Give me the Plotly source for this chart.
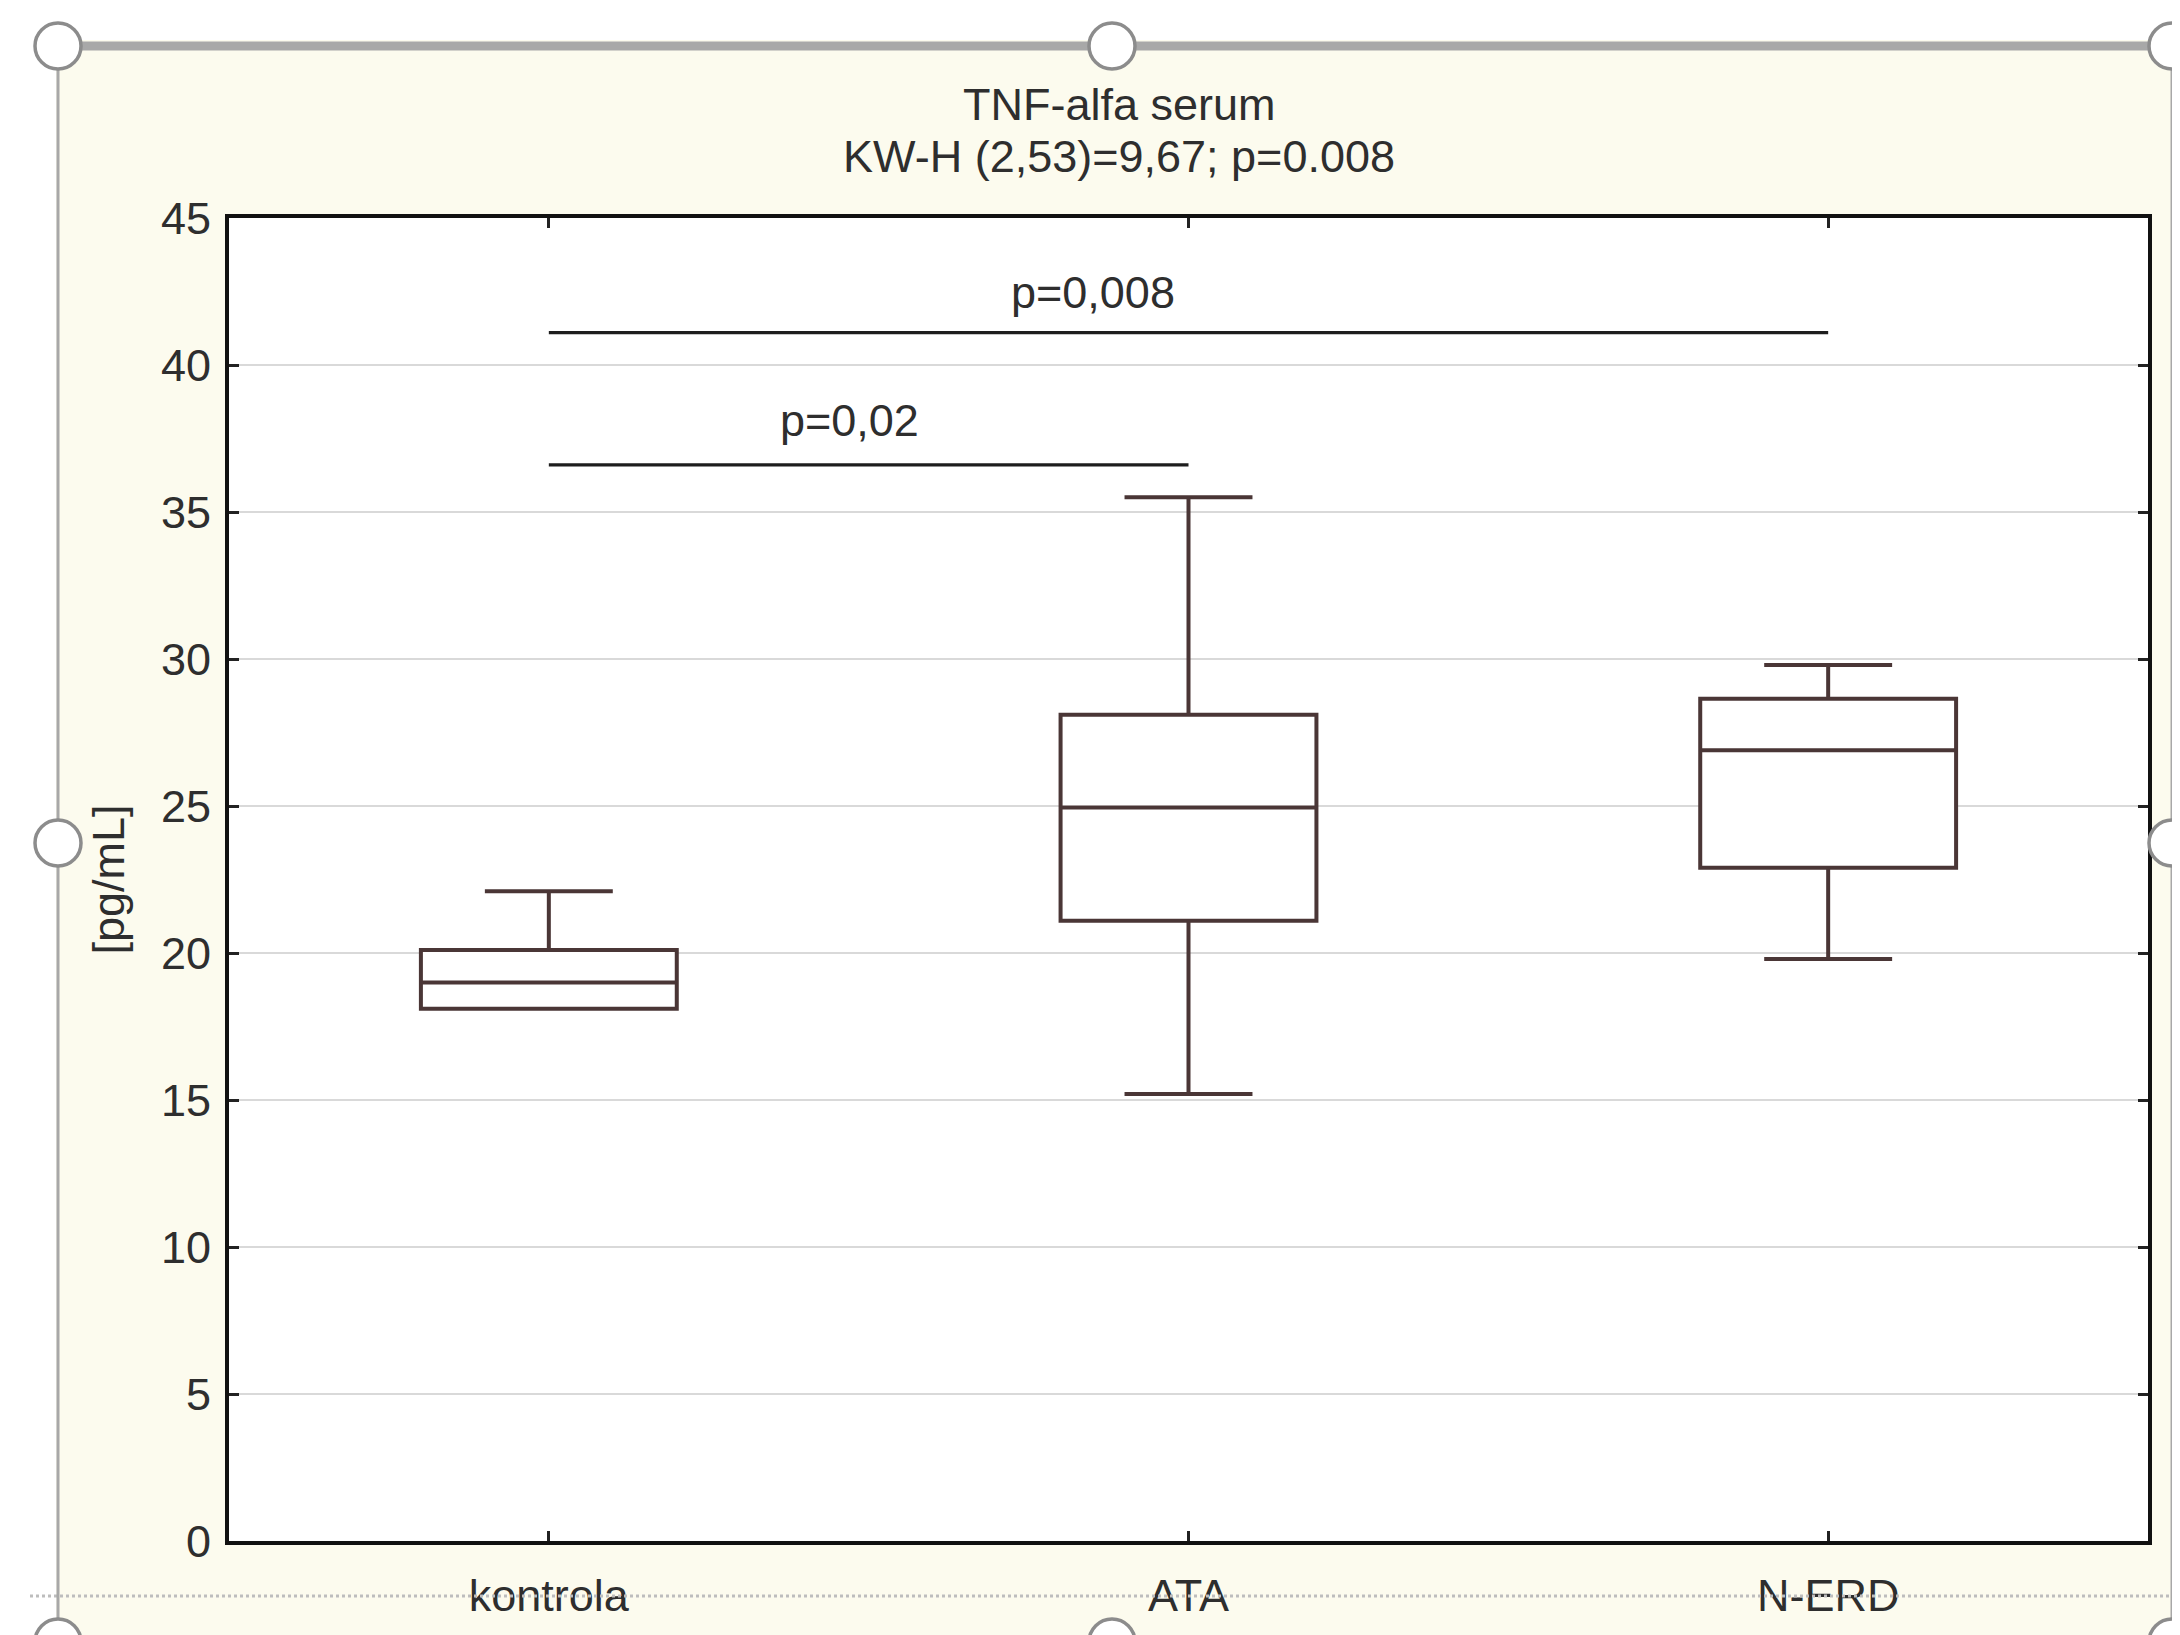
import plotly.graph_objects as go

# ---- data ----
categories = ["kontrola", "ATA", "N-ERD"]
lower_whisker = [18.1, 15.2, 19.8]
q1_values = [18.1, 21.1, 22.9]
median_values = [19.0, 24.95, 26.9]
q3_values = [20.1, 28.1, 28.65]
upper_whisker = [22.1, 35.5, 29.8]

sig_from = ["kontrola", "kontrola"]
sig_to = ["ATA", "N-ERD"]
sig_level = [36.6, 41.1]
sig_labels = ["p=0,02", "p=0,008"]

title_line1 = "TNF-alfa serum"
title_line2 = "KW-H (2,53)=9,67; p=0.008"
y_title = "[pg/mL]"
y_ticks = [0, 5, 10, 15, 20, 25, 30, 35, 40, 45]

# ---- layout geometry (screen pixels; page has an 8px body offset) ----
W, H = 2180, 1635
OFF = 8
L, R, T, B = 229 - OFF, 2148 - OFF, 218 - OFF, 1541 - OFF


def px(xp):
    return (xp - OFF - L) / (R - L)


def py(yp):
    return (B - (yp - OFF)) / (B - T)


FONT = "Liberation Sans, Arial, sans-serif"
TXT = "#2e2e2e"
BOXC = "#4a3636"
FS = 45

fig = go.Figure()

fig.add_trace(go.Box(
    x=categories,
    q1=q1_values,
    median=median_values,
    q3=q3_values,
    lowerfence=lower_whisker,
    upperfence=upper_whisker,
    width=0.4,
    whiskerwidth=0.5,
    fillcolor="white",
    line=dict(color=BOXC, width=4),
    boxpoints=False,
    showlegend=False,
))

for a, b, lvl in zip(sig_from, sig_to, sig_level):
    fig.add_trace(go.Scatter(
        x=[a, b], y=[lvl, lvl], mode="lines",
        line=dict(color="#1e1e1e", width=3.2),
        showlegend=False, hoverinfo="skip",
    ))

label_x = [0.47, 0.85]
label_dy = [1.5, 1.35]
annotations = []
for lx, lvl, dy, lab in zip(label_x, sig_level, label_dy, sig_labels):
    annotations.append(dict(
        x=lx, y=lvl + dy, xref="x", yref="y", text=lab, showarrow=False,
        font=dict(family=FONT, size=FS, color=TXT), xanchor="center", yanchor="middle",
    ))

annotations.append(dict(x=px(1119), y=py(104), xref="paper", yref="paper", text=title_line1,
                        showarrow=False, font=dict(family=FONT, size=FS, color=TXT),
                        xanchor="center", yanchor="middle"))
annotations.append(dict(x=px(1119), y=py(157), xref="paper", yref="paper", text=title_line2,
                        showarrow=False, font=dict(family=FONT, size=FS, color=TXT),
                        xanchor="center", yanchor="middle"))
annotations.append(dict(x=px(108), y=0.5, xref="paper", yref="paper", text=y_title,
                        showarrow=False, textangle=-90, font=dict(family=FONT, size=FS, color=TXT),
                        xanchor="center", yanchor="middle"))

# decorative selection frame
shapes = []
WHITE = "white"
shapes.append(dict(type="rect", xref="paper", yref="paper", x0=px(0), x1=px(W + 20), y0=py(-20), y1=py(40),
                   fillcolor=WHITE, line=dict(width=0), layer="below"))
shapes.append(dict(type="rect", xref="paper", yref="paper", x0=px(-20), x1=px(56), y0=py(-20), y1=py(H + 20),
                   fillcolor=WHITE, line=dict(width=0), layer="below"))
shapes.append(dict(type="rect", xref="paper", yref="paper", x0=px(2174), x1=px(W + 20), y0=py(-20), y1=py(H + 20),
                   fillcolor=WHITE, line=dict(width=0), layer="below"))
GREY = "#a8a8a8"
shapes.append(dict(type="line", xref="paper", yref="paper", x0=px(58), x1=px(2172), y0=py(46), y1=py(46),
                   line=dict(color=GREY, width=9)))
shapes.append(dict(type="line", xref="paper", yref="paper", x0=px(30), x1=px(2172), y0=py(1596), y1=py(1596),
                   line=dict(color="#bdbdbd", width=3, dash="dot")))
shapes.append(dict(type="line", xref="paper", yref="paper", x0=px(58), x1=px(58), y0=py(46), y1=py(H),
                   line=dict(color=GREY, width=3)))
shapes.append(dict(type="line", xref="paper", yref="paper", x0=px(2172), x1=px(2172), y0=py(46), y1=py(H),
                   line=dict(color=GREY, width=3)))
r = 23
for cx, cy in [(58, 46), (1112, 46), (2172, 46), (58, 843), (2172, 843),
               (58, 1642), (1112, 1642), (2172, 1642)]:
    shapes.append(dict(type="circle", xref="paper", yref="paper",
                       x0=px(cx - r), x1=px(cx + r), y0=py(cy + r), y1=py(cy - r),
                       fillcolor="white", line=dict(color="#8c8c8c", width=3.5)))

fig.update_layout(
    width=W, height=H,
    margin=dict(l=L, r=W - R, t=T, b=H - B, pad=0),
    paper_bgcolor="#FCFBEE",
    plot_bgcolor="white",
    font=dict(family=FONT, size=FS, color=TXT),
    showlegend=False,
    annotations=annotations,
    shapes=shapes,
)

fig.update_xaxes(
    type="category", categoryorder="array", categoryarray=categories,
    range=[-0.5, 2.5], showgrid=False, zeroline=False,
    showline=True, linecolor="#111", linewidth=4, mirror="ticks",
    ticks="inside", ticklen=10, tickwidth=2.5, tickcolor="#222",
    tickfont=dict(family=FONT, size=FS, color=TXT),
    ticklabelstandoff=12,
)
fig.update_yaxes(
    range=[0, 45], tickvals=y_ticks, showgrid=True, gridcolor="#d9d9d9", gridwidth=2,
    zeroline=False, showline=True, linecolor="#111", linewidth=4, mirror="ticks",
    ticks="inside", ticklen=10, tickwidth=2.5, tickcolor="#222",
    tickfont=dict(family=FONT, size=FS, color=TXT),
    ticklabelstandoff=5,
)

fig.write_html("out.html")
